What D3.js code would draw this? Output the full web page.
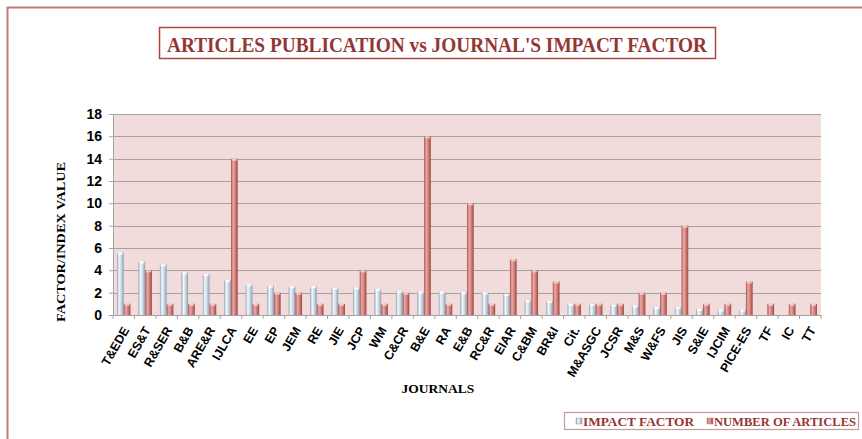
<!DOCTYPE html>
<html>
<head>
    <title>Articles Publication vs Journal's Impact Factor</title>
    <style>
        body { margin:0; background:#ffffff; }
    </style>
</head>
<body>
<script src="https://d3js.org/d3.v7.min.js"></script>
<script type="text/javascript">
    // data
    var journals = ["T&EDE","ES&T","R&SER","B&B","ARE&R","IJLCA","EE","EP","JEM","RE","JIE","JCP","WM",
                    "C&CR","B&E","RA","E&B","RC&R","EIAR","C&BM","BR&I","Cit.","M&ASGC","JCSR","M&S",
                    "W&FS","JIS","S&IE","IJCIM","PICE-ES","TF","IC","TT"];
    var impactFactor = [5.6,4.8,4.55,3.82,3.67,3.13,2.75,2.63,2.57,2.57,2.45,2.45,2.33,
                        2.15,2.1,2.1,2.03,2.0,1.88,1.31,1.25,1.0,1.0,0.93,0.84,
                        0.69,0.69,0.54,0.5,0.48,0,0,0];
    var articles = [1,4,1,1,1,14,1,2,2,1,1,4,1,
                    2,16,1,10,1,5,4,3,1,1,1,2,
                    2,8,1,1,3,1,1,1];
    var yTicks = [0,2,4,6,8,10,12,14,16,18];
    var seriesNames = ["IMPACT FACTOR","NUMBER OF ARTICLES"];

    var width = 862, height = 439;
    var plotLeft = 113, plotRight = 821, plotTop = 114, plotBottom = 315;

    var svg = d3.select("body")
            .append("svg")
            .attr("xmlns","http://www.w3.org/2000/svg")
            .attr("width", width)
            .attr("height", height);

    // gradients to give the bars their rounded look
    var defs = svg.append("defs");
    function addGradient(id, stops){
        var g = defs.append("linearGradient").attr("id", id)
                .attr("x1","0%").attr("x2","100%").attr("y1","0%").attr("y2","0%");
        stops.forEach(function(s){
            g.append("stop").attr("offset", s[0]).attr("stop-color", s[1]);
        });
    }
    addGradient("gradIF", [["0%","#8fa5ba"],["30%","#f4f8fb"],["60%","#cddbe6"],["100%","#8aa0b4"]]);
    addGradient("gradArt", [["0%","#a84c49"],["30%","#eaaaa7"],["60%","#d38581"],["100%","#a0453f"]]);

    // outer chart border
    svg.append("rect")
            .attr("x", 7.5).attr("y", 7.5)
            .attr("width", 900).attr("height", 500)
            .attr("fill", "none")
            .attr("stroke", "#c27c7a")
            .attr("stroke-width", 2);

    // title box
    svg.append("rect")
            .attr("x", 159.5).attr("y", 27.5)
            .attr("width", 556).attr("height", 31)
            .attr("fill", "#ffffff")
            .attr("stroke", "#a84845")
            .attr("stroke-width", 1.5);
    svg.append("text")
            .attr("x", 437).attr("y", 51.5)
            .attr("text-anchor","middle")
            .attr("font-family","Liberation Serif, DejaVu Serif, serif")
            .attr("font-weight","bold")
            .attr("font-size","21px")
            .attr("fill","#943634")
            .attr("textLength", 540)
            .attr("lengthAdjust","spacingAndGlyphs")
            .text("ARTICLES PUBLICATION vs JOURNAL'S IMPACT FACTOR");

    var x = d3.scaleBand().domain(journals).range([plotLeft, plotRight]).padding(0);
    var xSub = d3.scaleBand().domain(seriesNames).range([4, x.bandwidth() - 4]).padding(0);
    var y = d3.scaleLinear().domain([0, 18]).range([plotBottom, plotTop]);

    // plot background
    svg.append("rect")
            .attr("x", plotLeft).attr("y", plotTop)
            .attr("width", plotRight - plotLeft).attr("height", plotBottom - plotTop)
            .attr("fill", "#f2dcdb");

    // gridlines
    svg.append("g").selectAll("line")
            .data(yTicks)
            .enter().append("line")
            .attr("x1", plotLeft).attr("x2", plotRight)
            .attr("y1", function(d){ return Math.round(y(d)) + 0.5; })
            .attr("y2", function(d){ return Math.round(y(d)) + 0.5; })
            .attr("stroke", "#a3a3a3")
            .attr("stroke-width", 1.2);

    // y axis
    var yAxis = svg.append("g")
            .attr("transform", "translate(" + plotLeft + ",0)")
            .call(d3.axisLeft(y).tickValues(yTicks).tickSize(4).tickPadding(7));
    yAxis.select(".domain").attr("stroke", "#a3a3a3");
    yAxis.selectAll(".tick line").attr("stroke", "#a3a3a3");
    yAxis.selectAll("text")
            .attr("font-family","Liberation Sans Narrow, Liberation Sans, Arial, sans-serif")
            .attr("font-weight","bold")
            .attr("font-size","14px")
            .attr("fill","#000");

    // x axis
    var xAxis = svg.append("g")
            .attr("transform", "translate(0," + plotBottom + ")")
            .call(d3.axisBottom(x).tickSize(0).tickFormat(""));
    xAxis.select(".domain").attr("stroke", "#a3a3a3");
    svg.append("g").selectAll("line")
            .data(journals.concat(["end"]))
            .enter().append("line")
            .attr("x1", function(d,i){ return plotLeft + i * x.bandwidth(); })
            .attr("x2", function(d,i){ return plotLeft + i * x.bandwidth(); })
            .attr("y1", plotBottom).attr("y2", plotBottom + 4)
            .attr("stroke", "#a3a3a3");

    svg.append("g").selectAll("text")
            .data(journals)
            .enter().append("text")
            .attr("transform", function(d){
                return "translate(" + (x(d) + x.bandwidth() / 2 + 6) + "," + (plotBottom + 15) + ") rotate(-60)";
            })
            .attr("text-anchor","end")
            .attr("font-family","Liberation Sans, Arial, sans-serif")
            .attr("font-weight","bold")
            .attr("font-size","12.5px")
            .attr("fill","#000")
            .text(function(d){ return d; });

    // bars
    var rows = journals.map(function(j, i){
        return {name: j, values: [
            {series: seriesNames[0], value: impactFactor[i], fill: "url(#gradIF)", cap: "#ffffff"},
            {series: seriesNames[1], value: articles[i], fill: "url(#gradArt)", cap: "#f6d3d1"}
        ]};
    });

    var groups = svg.append("g").selectAll("g")
            .data(rows)
            .enter().append("g")
            .attr("transform", function(d){ return "translate(" + x(d.name) + ",0)"; });

    groups.selectAll("rect")
            .data(function(d){ return d.values.filter(function(v){ return v.value > 0; }); })
            .enter().append("rect")
            .attr("x", function(d){ return xSub(d.series); })
            .attr("width", xSub.bandwidth())
            .attr("y", function(d){ return y(d.value); })
            .attr("height", function(d){ return plotBottom - y(d.value); })
            .attr("fill", function(d){ return d.fill; });

    groups.selectAll("ellipse")
            .data(function(d){ return d.values.filter(function(v){ return v.value > 0; }); })
            .enter().append("ellipse")
            .attr("cx", function(d){ return xSub(d.series) + xSub.bandwidth() / 2; })
            .attr("cy", function(d){ return y(d.value) + 1; })
            .attr("rx", xSub.bandwidth() / 2 - 0.5)
            .attr("ry", 1.2)
            .attr("fill", function(d){ return d.cap; })
            .attr("opacity", 0.8);

    // axis titles
    svg.append("text")
            .attr("transform", "translate(65,242) rotate(-90)")
            .attr("text-anchor","middle")
            .attr("font-family","Liberation Serif, DejaVu Serif, serif")
            .attr("font-weight","bold")
            .attr("font-size","12.5px")
            .attr("textLength", 160)
            .attr("lengthAdjust","spacingAndGlyphs")
            .text("FACTOR/INDEX VALUE");

    svg.append("text")
            .attr("x", 438).attr("y", 393)
            .attr("text-anchor","middle")
            .attr("font-family","Liberation Serif, DejaVu Serif, serif")
            .attr("font-weight","bold")
            .attr("font-size","13.5px")
            .text("JOURNALS");

    // legend
    svg.append("rect")
            .attr("x", 564.5).attr("y", 412.5)
            .attr("width", 294).attr("height", 17)
            .attr("fill", "#ffffff")
            .attr("stroke", "#c99c9b")
            .attr("stroke-width", 1.2);

    var legendX = [576, 707];
    var legendLen = [111, 142];
    var legendFill = ["url(#gradIF)", "url(#gradArt)"];
    var legend = svg.append("g").selectAll("g")
            .data(seriesNames)
            .enter().append("g")
            .attr("transform", function(d,i){ return "translate(" + legendX[i] + ",0)"; });
    legend.append("rect")
            .attr("x", 0).attr("y", 418)
            .attr("width", 6).attr("height", 6)
            .attr("fill", function(d,i){ return legendFill[i]; })
            .attr("stroke", "#999").attr("stroke-width", 0.5);
    legend.append("text")
            .attr("x", 7).attr("y", 425.5)
            .attr("font-family","Liberation Serif, DejaVu Serif, serif")
            .attr("font-weight","bold")
            .attr("font-size","13px")
            .attr("fill","#943634")
            .attr("textLength", function(d,i){ return legendLen[i]; })
            .attr("lengthAdjust","spacingAndGlyphs")
            .text(function(d){ return d; });
</script>
</body>
</html>
